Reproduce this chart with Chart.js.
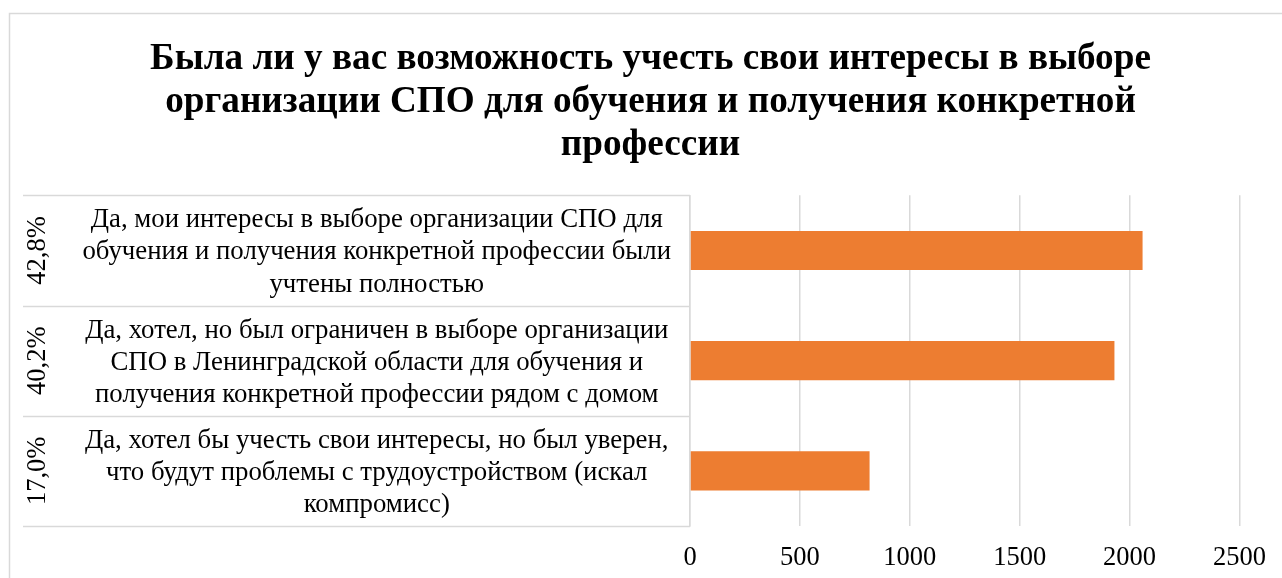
<!DOCTYPE html>
<html>
<head>
<meta charset="utf-8">
<script src="https://cdn.jsdelivr.net/npm/chart.js@4/dist/chart.umd.min.js"></script>
<style>
  html, body { margin: 0; padding: 0; background: #fff; overflow: hidden; }
  #wrap { width: 1282px; height: 578px; position: relative; }
</style>
</head>
<body>
<div id="wrap"><canvas id="chart" width="1282" height="578"></canvas></div>
<script>
const titleLines = [
  'Была ли у вас возможность учесть свои интересы в выборе',
  'организации СПО для обучения и получения конкретной',
  'профессии'
];
const categories = [
  ['Да, мои интересы в выборе организации СПО для', 'обучения и получения конкретной профессии были', 'учтены полностью'],
  ['Да, хотел, но был ограничен в выборе организации', 'СПО в Ленинградской области для обучения и', 'получения конкретной профессии рядом с домом'],
  ['Да, хотел бы учесть свои интересы, но был уверен,', 'что будут проблемы с трудоустройством (искал', 'компромисс)']
];
const shares = ['42,8%', '40,2%', '17,0%'];
const counts = [2059, 1931, 817];
const xTicks = [0, 500, 1000, 1500, 2000, 2500];

const serif = '"Liberation Serif", "Times New Roman", serif';
const lineColor = '#d9d9d9';

// outer frame, table lines of the category axis and the rotated outer labels
const tablePlugin = {
  id: 'tablePlugin',
  beforeDraw(chart) {
    const ctx = chart.ctx;
    ctx.save();
    ctx.fillStyle = '#fff';
    ctx.fillRect(0, 0, chart.width, chart.height);
    ctx.strokeStyle = lineColor;
    ctx.lineWidth = 1.5;
    ctx.beginPath();
    ctx.moveTo(9.5, chart.height);
    ctx.lineTo(9.5, 13.5);
    ctx.lineTo(chart.width, 13.5);
    ctx.stroke();
    ctx.restore();
  },
  afterDraw(chart) {
    const ctx = chart.ctx;
    const y = chart.scales.y;
    const right = chart.chartArea.left;
    ctx.save();
    ctx.strokeStyle = lineColor;
    ctx.lineWidth = 1.5;
    for (let i = 0; i <= categories.length; i++) {
      const py = Math.round(y.getPixelForValue(i - 0.5)) + 0.5;
      ctx.beginPath();
      ctx.moveTo(23, py);
      ctx.lineTo(right, py);
      ctx.stroke();
    }
    ctx.fillStyle = '#000';
    ctx.font = '26.5px ' + serif;
    ctx.textAlign = 'center';
    ctx.textBaseline = 'middle';
    shares.forEach((s, i) => {
      ctx.save();
      ctx.translate(38, y.getPixelForValue(i));
      ctx.rotate(-Math.PI / 2);
      ctx.fillText(s, 0, 0);
      ctx.restore();
    });
    ctx.restore();
  }
};

new Chart(document.getElementById('chart'), {
  type: 'bar',
  data: {
    labels: categories,
    datasets: [{
      data: counts,
      backgroundColor: '#ED7D31',
      borderWidth: 0,
      categoryPercentage: 1,
      barPercentage: 0.355
    }]
  },
  options: {
    indexAxis: 'y',
    responsive: false,
    animation: false,
    layout: { padding: { top: 14, left: 40, right: 21, bottom: 5 } },
    scales: {
      x: {
        min: 0,
        max: 2500,
        afterBuildTicks: (scale) => { scale.ticks = xTicks.map(v => ({ value: v })); },
        afterFit: (scale) => { scale.height = 47; },
        grid: { color: lineColor, lineWidth: 1.5, drawTicks: false },
        border: { display: false },
        ticks: {
          color: '#000',
          font: { family: serif, size: 26.5 },
          padding: 16,
          callback: (v) => String(v)
        }
      },
      y: {
        afterFit: (scale) => {
          scale.width = 690 - 40;
          // the long wrapped labels should not push the plot area in
          scale.paddingTop = 0;
          scale.paddingBottom = 0;
        },
        grid: { drawOnChartArea: false, drawTicks: false },
        border: { display: true, color: lineColor, width: 1.5 },
        ticks: {
          color: '#000',
          crossAlign: 'center',
          padding: 19,
          labelOffset: 2,
          font: { family: serif, size: 26.8, lineHeight: 1.2 }
        }
      }
    },
    plugins: {
      legend: { display: false },
      tooltip: { enabled: false },
      title: {
        display: true,
        text: titleLines,
        color: '#000',
        font: { family: serif, size: 37.2, weight: 'bold', lineHeight: 1.15 },
        padding: { top: 24, bottom: 29 }
      }
    }
  },
  plugins: [tablePlugin]
});
</script>
</body>
</html>
